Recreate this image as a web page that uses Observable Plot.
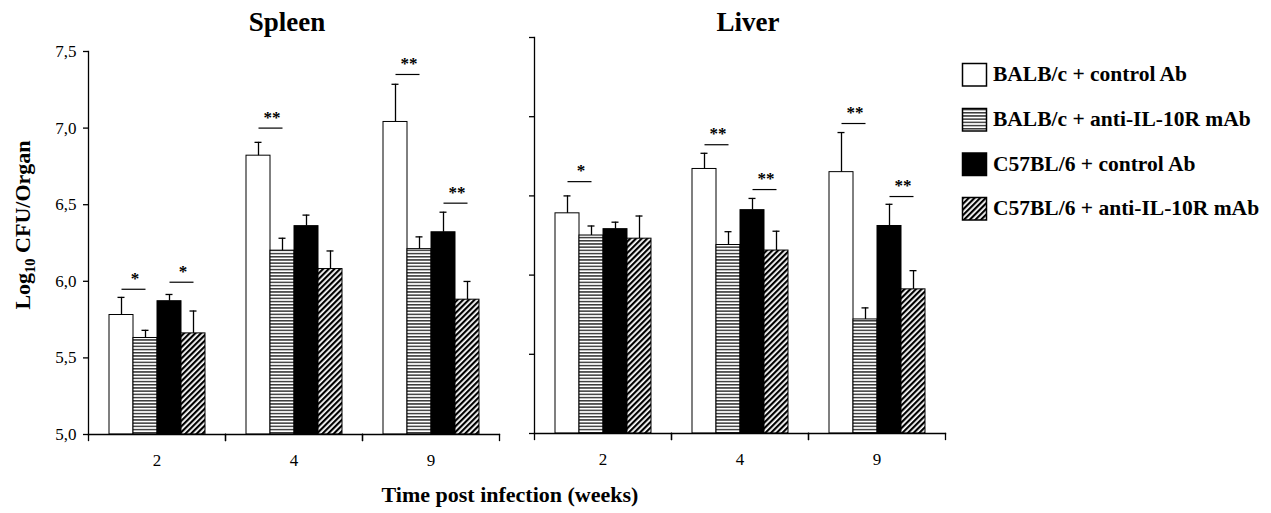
<!DOCTYPE html>
<html><head><meta charset="utf-8">
<script src="https://cdn.jsdelivr.net/npm/d3@7"></script>
<script src="https://cdn.jsdelivr.net/npm/@observablehq/plot@0.6"></script>
<style>
body{margin:0;background:#fff;}
#wrap{position:relative;width:1271px;height:513px;overflow:hidden;background:#fff;font-family:"Liberation Serif",serif;}
#wrap > svg{position:absolute;}
</style></head><body>
<div id="wrap"></div>
<script>
// ---- data ----
const groups = ["BALB/c + control Ab", "BALB/c + anti-IL-10R mAb", "C57BL/6 + control Ab", "C57BL/6 + anti-IL-10R mAb"];
const weeks = ["2", "4", "9"];
const yTicks = [5.0, 5.5, 6.0, 6.5, 7.0, 7.5];

const spleenMean = [[5.78, 5.63, 5.87, 5.66], [6.82, 6.20, 6.36, 6.08], [7.04, 6.21, 6.32, 5.88]];
const spleenErr  = [[0.115, 0.05, 0.044, 0.146], [0.087, 0.081, 0.072, 0.118], [0.246, 0.08, 0.131, 0.119]];
const liverMean  = [[6.39, 6.25, 6.29, 6.23], [6.67, 6.19, 6.41, 6.155], [6.65, 5.72, 6.31, 5.91]];
const liverErr   = [[0.11, 0.06, 0.044, 0.143], [0.099, 0.084, 0.074, 0.122], [0.25, 0.073, 0.137, 0.118]];

const spleenSig = [
  {week: "2", a: 0, b: 1, level: 5.948, label: "*"},
  {week: "2", a: 2, b: 3, level: 5.994, label: "*"},
  {week: "4", a: 0, b: 1, level: 7.0, label: "**"},
  {week: "9", a: 0, b: 1, level: 7.35, label: "**"},
  {week: "9", a: 2, b: 3, level: 6.51, label: "**"}
];
const liverSig = [
  {week: "2", a: 0, b: 1, level: 6.59, label: "*"},
  {week: "4", a: 0, b: 1, level: 6.823, label: "**"},
  {week: "4", a: 2, b: 3, level: 6.54, label: "**"},
  {week: "9", a: 0, b: 1, level: 6.957, label: "**"},
  {week: "9", a: 2, b: 3, level: 6.496, label: "**"}
];

const fills = ["white", "url(#hstripe)", "black", "url(#dstripe)"];
const FONT = "Liberation Serif";

// ---- pattern defs ----
const wrap = document.getElementById("wrap");
const defsSvg = d3.create("svg").attr("width", 0).attr("height", 0).style("left", "0px").style("top", "0px");
const defs = defsSvg.append("defs");
const h = defs.append("pattern").attr("id", "hstripe").attr("patternUnits", "userSpaceOnUse").attr("width", 6).attr("height", 3.2);
h.append("rect").attr("width", 6).attr("height", 3.2).attr("fill", "white");
h.append("rect").attr("y", 0).attr("width", 6).attr("height", 1.5).attr("fill", "#3a3a3a");
const dg = defs.append("pattern").attr("id", "dstripe").attr("patternUnits", "userSpaceOnUse").attr("width", 4).attr("height", 4).attr("patternTransform", "rotate(45)");
dg.append("rect").attr("width", 4).attr("height", 4).attr("fill", "white");
dg.append("rect").attr("width", 2.2).attr("height", 4).attr("fill", "black");
wrap.appendChild(defsSvg.node());

function rows(mean, err) {
  return weeks.flatMap((w, i) => groups.map((g, j) => ({week: w, group: g, mean: mean[i][j], err: err[i][j]})));
}
const fmt = d => d.toFixed(1).replace(".", ",");

function panel(mean, err, sig, o) {
  const H = 513;
  const data = rows(mean, err);
  const sigRows = sig.map(s => ({week: s.week, g1: groups[s.a], g2: groups[s.b], level: s.level, label: s.label}));
  const plotH = H - o.marginTop - o.marginBottom;
  const lw = 1.3;
  return Plot.plot({
    width: o.width, height: H,
    marginLeft: o.marginLeft, marginRight: o.marginRight, marginTop: o.marginTop, marginBottom: o.marginBottom,
    style: {fontFamily: FONT, background: "transparent", overflow: "visible", color: "black"},
    fx: {domain: weeks, padding: 0, axis: null},
    x: {domain: groups, paddingInner: 0, paddingOuter: 0.754, axis: null},
    y: {domain: [5, 7.5], axis: null},
    color: {domain: groups, range: fills},
    marks: [
      Plot.barY(data, {fx: "week", x: "group", y1: 5, y2: "mean", fill: "group", stroke: "black", strokeWidth: 1}),
      Plot.ruleX(data, {fx: "week", x: "group", y1: "mean", y2: d => d.mean + d.err, stroke: "black", strokeWidth: lw}),
      Plot.tickY(data, {fx: "week", x: "group", y: d => d.mean + d.err, stroke: "black", strokeWidth: lw, insetLeft: 8.5, insetRight: 8.5}),
      Plot.link(sigRows, {fx: "week", x1: "g1", x2: "g2", y1: "level", y2: "level", stroke: "black", strokeWidth: 1.2}),
      Plot.text(sigRows, {fx: "week", x: "g1", y: "level", text: "label", dx: 13.5, dy: -11, fontSize: 17, fontWeight: "bold"}),
      Plot.frame({anchor: "left", facetAnchor: "left", strokeWidth: lw}),
      Plot.frame({anchor: "bottom", strokeWidth: lw}),
      Plot.frame({anchor: "left", insetTop: plotH, insetBottom: -6, strokeWidth: lw}),
      Plot.frame({anchor: "right", insetTop: plotH, insetBottom: -6, strokeWidth: lw}),
      Plot.axisY({ticks: yTicks, tickSize: 5, tickPadding: 7, fontSize: 17, tickFormat: o.labels ? fmt : () => "", label: null, strokeWidth: lw}),
      Plot.axisFx({anchor: "bottom", tickSize: 0, tickPadding: 19, fontSize: 17, label: null})
    ]
  });
}

const spleen = panel(spleenMean, spleenErr, spleenSig, {width: 510, marginLeft: 87, marginRight: 10, marginTop: 51, marginBottom: 79, labels: true});
spleen.style.left = "0px"; spleen.style.top = "0px";
wrap.appendChild(spleen);

const liver = panel(liverMean, liverErr, liverSig, {width: 440, marginLeft: 23, marginRight: 4, marginTop: 37, marginBottom: 80, labels: false});
liver.style.left = "510px"; liver.style.top = "0px";
wrap.appendChild(liver);

// ---- overlay: titles, axis labels, legend ----
const ov = d3.create("svg").attr("width", 1271).attr("height", 513).style("left", "0px").style("top", "0px")
  .attr("font-family", FONT).attr("font-weight", "bold").attr("fill", "black");
ov.append("text").attr("x", 287).attr("y", 31).attr("text-anchor", "middle").attr("font-size", 27).text("Spleen");
ov.append("text").attr("x", 748).attr("y", 31).attr("text-anchor", "middle").attr("font-size", 27).text("Liver");
ov.append("text").attr("x", 510).attr("y", 502).attr("text-anchor", "middle").attr("font-size", 22).text("Time post infection (weeks)");
const yl = ov.append("text").attr("transform", "translate(30,225) rotate(-90)").attr("text-anchor", "middle").attr("font-size", 22);
yl.append("tspan").text("Log");
yl.append("tspan").attr("font-size", 14.5).attr("dy", 5).text("10");
yl.append("tspan").attr("dy", -5).text(" CFU/Organ");

const legendBaselines = [81, 126, 170.5, 215];
groups.forEach((g, i) => {
  const b = legendBaselines[i];
  ov.append("rect").attr("x", 962.5).attr("y", b - 17.5).attr("width", 24).attr("height", 22.5)
    .attr("fill", fills[i]).attr("stroke", "black").attr("stroke-width", 1.5);
  ov.append("text").attr("x", 993).attr("y", b).attr("font-size", 21.5).text(g);
});
wrap.appendChild(ov.node());
</script>
</body></html>
